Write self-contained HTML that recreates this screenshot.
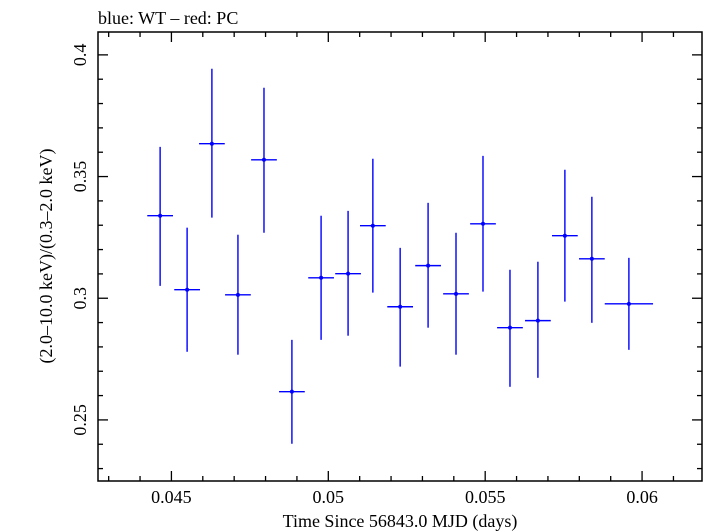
<!DOCTYPE html>
<html><head><meta charset="utf-8"><style>
body{margin:0;background:#fff;}
svg{display:block;font-family:"Liberation Serif",serif;}
</style></head><body>
<svg id="chart" width="705" height="532" viewBox="0 0 705 532" xmlns="http://www.w3.org/2000/svg">
<text x="98" y="24" font-size="18">blue: WT – red: PC</text>
<rect x="98" y="32" width="604" height="449" fill="none" stroke="#000" stroke-width="1.5"/>
<g id="ticks"></g>
<g id="marks"></g>
<text x="400" y="527" font-size="18" text-anchor="middle">Time Since 56843.0 MJD (days)</text>
<text transform="translate(52,256) rotate(-90)" font-size="18" text-anchor="middle">(2.0–10.0 keV)/(0.3–2.0 keV)</text>
</svg>
<script>
const times=[0.04464,0.04550,0.04629,0.04712,0.04795,0.04884,0.04977,0.05063,0.05142,0.05229,0.05318,0.05407,0.05493,0.05579,0.05668,0.05754,0.05840,0.05958];
const timeErr=[0.00041,0.00041,0.00041,0.00041,0.00041,0.00041,0.00041,0.00041,0.00041,0.00041,0.00041,0.00041,0.00041,0.00041,0.00041,0.00041,0.00041,0.00077];
const ratios=[0.3339,0.3035,0.3635,0.3014,0.3569,0.2616,0.3084,0.3101,0.3298,0.2965,0.3134,0.3018,0.3306,0.2879,0.2908,0.3257,0.3162,0.2977];
const ratioHigh=[0.3622,0.3290,0.3943,0.3261,0.3865,0.2829,0.3339,0.3359,0.3573,0.3207,0.3392,0.3269,0.3585,0.3117,0.3150,0.3528,0.3417,0.3166];
const ratioLow=[0.3051,0.2780,0.3331,0.2768,0.3269,0.2402,0.2829,0.2846,0.3023,0.2719,0.2879,0.2768,0.3027,0.2636,0.2673,0.2986,0.2899,0.2788];
const xTickLabels=["0.045","0.05","0.055","0.06"];
const yTickLabels=["0.25","0.3","0.35","0.4"];
const L=98,R=702,T=32,B=481;
const xmin=0.04266,xmax=0.06191,ymin=0.2249,ymax=0.4094;
const X=v=>L+(v-xmin)/(xmax-xmin)*(R-L);
const Y=v=>B-(v-ymin)/(ymax-ymin)*(B-T);
const NS="http://www.w3.org/2000/svg";
function mk(tag,attrs,parent){const e=document.createElementNS(NS,tag);for(const k in attrs)e.setAttribute(k,attrs[k]);parent.appendChild(e);return e;}
const tg=document.getElementById('ticks'),mg=document.getElementById('marks');
// x ticks
for(let i=Math.ceil(xmin*1000);i<=Math.floor(xmax*1000);i++){
  const v=i/1000,x=X(v),major=(i%5===0),len=major?10:5;
  let l=mk('line',{x1:x,x2:x,y1:B,y2:B-len,stroke:'#000','stroke-width':1.3},tg);
  
  
  l=mk('line',{x1:x,x2:x,y1:T,y2:T+len,stroke:'#000','stroke-width':1.3},tg);
  
  
}
xTickLabels.forEach(s=>{const t=mk('text',{x:X(parseFloat(s)),y:503,'font-size':18,'text-anchor':'middle'},tg);t.textContent=s;
  
  });
// y ticks
for(let i=Math.ceil(ymin*100);i<=Math.floor(ymax*100);i++){
  const v=i/100,y=Y(v),major=(i%5===0),len=major?10:5;
  let l=mk('line',{x1:L,x2:L+len,y1:y,y2:y,stroke:'#000','stroke-width':1.3},tg);
  
  
  l=mk('line',{x1:R,x2:R-len,y1:y,y2:y,stroke:'#000','stroke-width':1.3},tg);
  
  
}
yTickLabels.forEach(s=>{const y=Y(parseFloat(s));const t=mk('text',{transform:`translate(86,${y}) rotate(-90)`,'font-size':18,'text-anchor':'middle'},tg);t.textContent=s;
  
  });
// data
times.forEach((t,i)=>{
  const g=mk('g',{},mg);
  
  
  mk('line',{x1:X(t),x2:X(t),y1:Y(ratioHigh[i]),y2:Y(ratioLow[i]),stroke:'#0000ff','stroke-width':1.4},g);
  mk('line',{x1:X(t-timeErr[i]),x2:X(t+timeErr[i]),y1:Y(ratios[i]),y2:Y(ratios[i]),stroke:'#0000ff','stroke-width':1.4},g);
  mk('circle',{cx:X(t),cy:Y(ratios[i]),r:2,fill:'#0000ff'},g);
});
</script>
</body></html>
